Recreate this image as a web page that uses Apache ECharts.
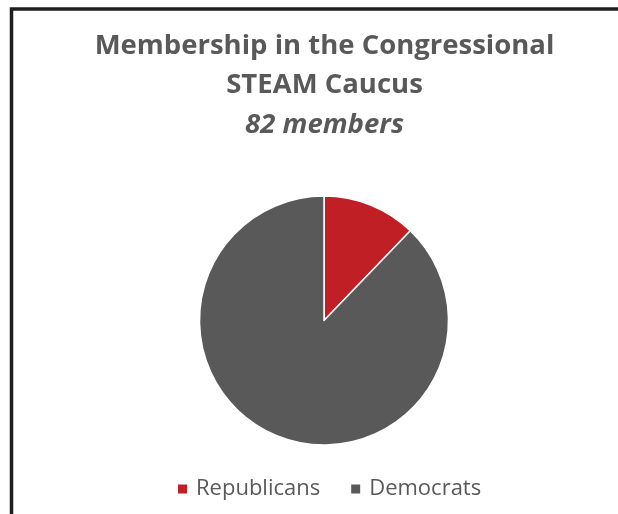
<!DOCTYPE html>
<html><head><meta charset="utf-8">
<script src="https://cdn.jsdelivr.net/npm/echarts@6/dist/echarts.min.js"></script>
<style>html,body{margin:0;padding:0;background:#fff}#c{width:618px;height:514px}</style>
</head><body><div id="c"></div>
<script>
const categories = ['Republicans', 'Democrats'];
const values = [10, 72];
const colors = ['#C01F26', '#595959'];
const titleLines = ['Membership in the Congressional', 'STEAM Caucus'];
const subtitle = '82 members';

const chart = echarts.init(document.getElementById('c'), null, {renderer: 'canvas'});
chart.setOption({
  animation: false,
  backgroundColor: '#fff',
  graphic: [{
    type: 'rect', shape: {x: 11.5, y: 9, width: 700, height: 600},
    style: {fill: 'none', stroke: '#1e1e1e', lineWidth: 3.5}, silent: true
  }],
  title: {
    left: 319.5, textAlign: 'center', top: 21,
    text: titleLines.map(t => '{a|' + t + '}').join('\n') + '\n{b|' + subtitle + '}',
    textStyle: {
      rich: {
        a: {fontFamily: 'Open Sans', fontWeight: 'bold', fontSize: 27.5, color: '#595959', lineHeight: 39.5},
        b: {fontFamily: 'Open Sans', fontWeight: 'bold', fontStyle: 'italic', fontSize: 27.5, color: '#595959', lineHeight: 39.5}
      }
    }
  },
  legend: {
    top: 473, left: 171, icon: 'rect', itemWidth: 11, itemHeight: 11, itemGap: 29,
    textStyle: {fontFamily: 'Open Sans', fontSize: 22, color: '#595959', padding: [0, 0, 0, 3]},
    data: categories
  },
  series: [{
    type: 'pie', center: [324, 320.5], radius: 124.5, startAngle: 90, clockwise: true,
    label: {show: false}, labelLine: {show: false},
    itemStyle: {borderColor: '#fff', borderWidth: 1.5},
    data: categories.map((c, i) => ({name: c, value: values[i], itemStyle: {color: colors[i]}}))
  }]
});
</script></body></html>
